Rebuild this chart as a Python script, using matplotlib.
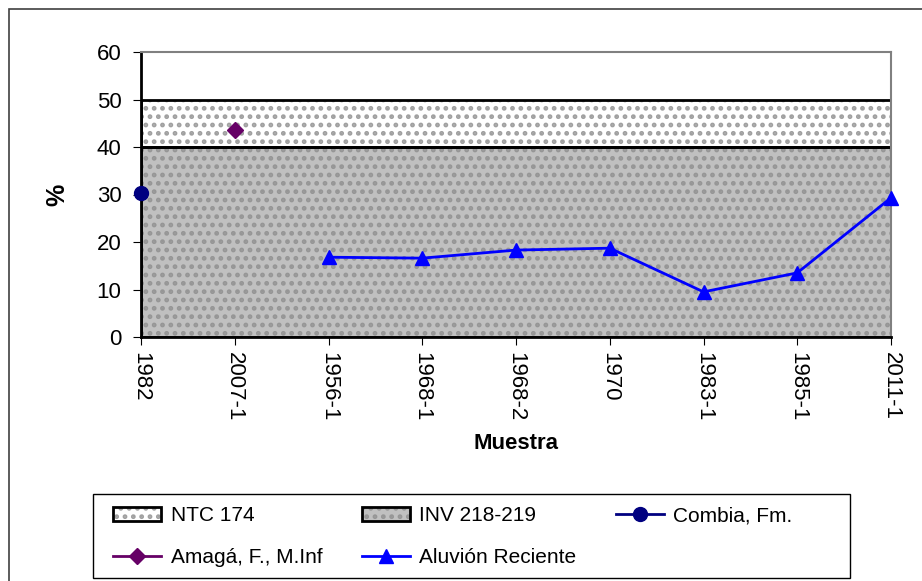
import numpy as np
import matplotlib
matplotlib.use('Agg')
import matplotlib.pyplot as plt
from matplotlib.patches import Rectangle
from matplotlib.legend_handler import HandlerTuple

plt.rcParams['font.family'] = ['Liberation Sans', 'DejaVu Sans']
plt.rcParams['hatch.linewidth'] = 2.2

# ------ data ------
muestras = ['1982', '2007-1', '1956-1', '1968-1', '1968-2', '1970', '1983-1', '1985-1', '2011-1']
combia = [30.3, None, None, None, None, None, None, None, None]
amaga = [None, 43.6, None, None, None, None, None, None, None]
aluvion = [None, None, 16.8, 16.6, 18.3, 18.7, 9.5, 13.5, 29.3]
ntc_174 = (40, 50)
inv_218 = (0, 40)

def to_arr(v):
    return np.array([np.nan if a is None else a for a in v], dtype=float)

x = np.arange(len(muestras))

fig = plt.figure(figsize=(9.22, 5.81), dpi=100)
ax = fig.add_axes([141/922, 1 - 337/581, 750/922, 285/581])

# ------ bands ------
ax.axhspan(*ntc_174, facecolor='white', hatch='..', edgecolor='#a0a0a0', lw=0, zorder=1)
ax.axhspan(*ntc_174, fill=False, edgecolor='black', lw=2, zorder=2)
ax.axhspan(*inv_218, facecolor='#c0c0c0', hatch='..', edgecolor='#969696', lw=0, zorder=1)
ax.axhspan(*inv_218, fill=False, edgecolor='black', lw=2, zorder=2)

# ------ series ------
l1, = ax.plot(x, to_arr(combia), color='#000080', marker='o', ms=10, lw=2, clip_on=False, zorder=5)
l2, = ax.plot(x, to_arr(amaga), color='#660066', marker='D', ms=8, lw=2, clip_on=False, zorder=5)
l3, = ax.plot(x, to_arr(aluvion), color='#0000ff', marker='^', ms=10, lw=2, clip_on=False, zorder=5)

ax.set_xlim(0, len(muestras) - 1)
ax.set_ylim(0, 60)
ax.set_yticks(range(0, 61, 10))
ax.set_xticks(x)
ax.set_xticklabels(muestras, rotation=270, fontsize=16)
ax.tick_params(axis='y', labelsize=16, length=6, pad=8)
ax.tick_params(axis='x', length=6, pad=5)
for s in ['top', 'right']:
    ax.spines[s].set_color('#808080')
    ax.spines[s].set_linewidth(1.5)
for s in ['left', 'bottom']:
    ax.spines[s].set_linewidth(2)

ax.set_xlabel('Muestra', fontsize=16, fontweight='bold', labelpad=8)
ax.set_ylabel('%', fontsize=18, fontweight='bold', labelpad=20)

# ------ legend ------
h_ntc = (Rectangle((0, 0), 1, 1, facecolor='white', hatch='..', edgecolor='#a0a0a0', lw=0),
         Rectangle((0, 0), 1, 1, fill=False, edgecolor='black', lw=2))
h_inv = (Rectangle((0, 0), 1, 1, facecolor='#c0c0c0', hatch='..', edgecolor='#969696', lw=0),
         Rectangle((0, 0), 1, 1, fill=False, edgecolor='black', lw=2))
handles = [h_ntc, l2, h_inv, l3, l1]
labels = ['NTC 174', 'Amagá, F., M.Inf', 'INV 218-219', 'Aluvión Reciente', 'Combia, Fm.']
leg = fig.legend(handles, labels, ncol=3, loc='upper left',
                 bbox_to_anchor=(105/922, 1 - 498/581),
                 fontsize=15, frameon=False,
                 handlelength=2.3, handletextpad=0.45, labelspacing=1.1, columnspacing=1.9,
                 borderaxespad=0, handler_map={tuple: HandlerTuple(ndivide=1)})

# legend box
fig.patches.append(Rectangle((93/922, 1 - 578/581), 757/922, 84/581, transform=fig.transFigure,
                             fill=False, edgecolor='black', lw=1))
# outer chart border
fig.patches.append(Rectangle((9/922, -0.1), 1.2, 1 - 9/581 + 0.1, transform=fig.transFigure,
                             fill=False, edgecolor='#404040', lw=1.2))

fig.savefig('out.png', dpi=100)
